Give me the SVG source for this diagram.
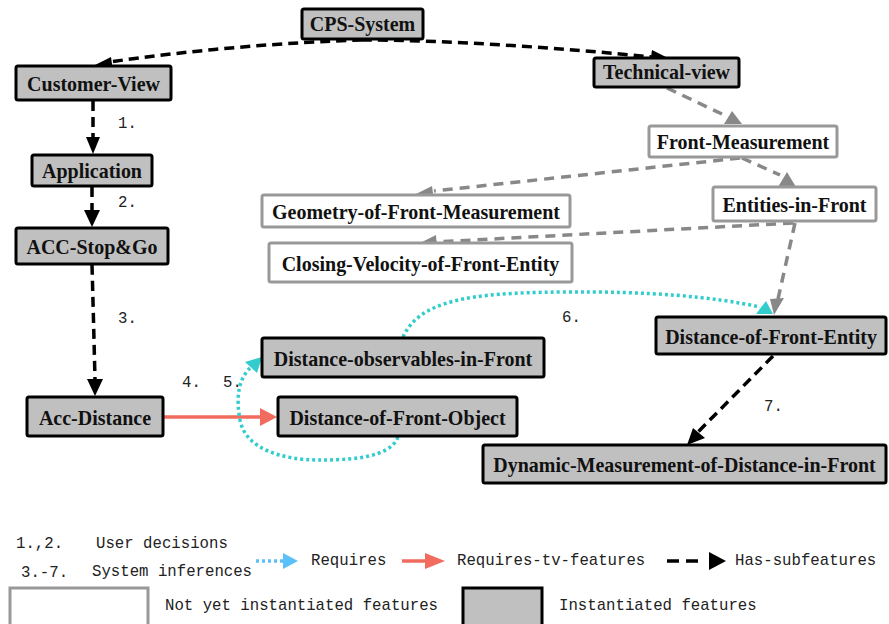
<svg xmlns="http://www.w3.org/2000/svg" width="889" height="624" viewBox="0 0 889 624">
<style>
.inst{fill:#c0c0c0;stroke:#000;stroke-width:3}
.nyi{fill:#fff;stroke:#999;stroke-width:3}
.lbl{font-family:"Liberation Serif","Times New Roman",serif;font-weight:bold;font-size:20px;fill:#111;text-anchor:middle}
.mono{font-family:"Liberation Mono","Courier New",monospace;font-size:15.7px;fill:#222}
.blk{fill:none;stroke:#000;stroke-width:3.5;stroke-dasharray:10,6}
.gry{fill:none;stroke:#888;stroke-width:3.5;stroke-dasharray:10,7}
.cyn{fill:none;stroke:#33cccc;stroke-width:3.5;stroke-dasharray:3,3}
.red{fill:none;stroke:#f26b5f;stroke-width:3.5}
.hb{fill:#000}
.hg{fill:#888}
.hc{fill:#33cccc}
.hr{fill:#f26b5f}
</style>
<rect width="889" height="624" fill="#fff"/>
<g id="connectors">
  <path class="blk" d="M362,40 C290,42 190,50 110,62"/>
  <polygon class="hb" points="95,65 111,57 113,71"/>
  <path class="blk" d="M362,40 C450,40 560,48 652,57"/>
  <polygon class="hb" points="668,58 652,50 650,64"/>
  <path class="blk" d="M93,101 L93,137"/>
  <polygon class="hb" points="93,154 86,137 100,137"/>
  <path class="blk" d="M92,187 L92,210"/>
  <polygon class="hb" points="92,227 84,210 100,210"/>
  <path class="blk" d="M92,265 C93,300 94,340 95,379"/>
  <polygon class="hb" points="95,396 87,379 103,379"/>
  <path class="red" d="M164,417 L261,417"/>
  <polygon class="hr" points="277,417 260,408 260,426"/>
  <path class="cyn" d="M398,437 C390,458 350,460 320,460 C280,460 245,448 240,420 C236,398 238,380 250,368"/>
  <polygon class="hc" points="262,357 245,362 257,373"/>
  <path class="cyn" d="M403,337 C420,300 470,293 560,292 C650,291 715,297 760,307"/>
  <polygon class="hc" points="766,301 756,314 773,314"/>
  <path class="gry" d="M667,88 L722,114"/>
  <polygon class="hg" points="732,111 724,124 742,124"/>
  <path class="gry" d="M740,158 L434,191"/>
  <polygon class="hg" points="416,194 432,186 434,200"/>
  <path class="gry" d="M742,158 L780,175"/>
  <polygon class="hg" points="787,172 778,187 796,187"/>
  <path class="gry" d="M793,223 L436,242"/>
  <polygon class="hg" points="420,243 436,235 437,250"/>
  <path class="gry" d="M795,223 L778,299"/>
  <polygon class="hg" points="774,315 770,299 784,298"/>
  <path class="blk" d="M773,356 L698,432"/>
  <polygon class="hb" points="687,445 693,428 705,438"/>
</g>
<g id="n-cps"><rect class="inst" x="302" y="9" width="121" height="30" rx="2"/><text class="lbl" transform="translate(362.5,31) scale(1,1.1)">CPS-System</text></g>
<g id="n-customer"><rect class="inst" x="16" y="66" width="155" height="34" rx="2"/><text class="lbl" transform="translate(93.5,90.5) scale(1,1.1)">Customer-View</text></g>
<g id="n-technical"><rect class="inst" x="594" y="58" width="145" height="29" rx="2"/><text class="lbl" transform="translate(666.5,79) scale(1,1.1)">Technical-view</text></g>
<g id="n-frontmeas"><rect class="nyi" x="649" y="126" width="188" height="31" rx="2"/><text class="lbl" transform="translate(743,148.5) scale(1,1.1)">Front-Measurement</text></g>
<g id="n-entities"><rect class="nyi" x="713" y="187" width="163" height="34" rx="2"/><text class="lbl" transform="translate(794.5,211.5) scale(1,1.1)">Entities-in-Front</text></g>
<g id="n-geometry"><rect class="nyi" x="262" y="195" width="308" height="32" rx="2"/><text class="lbl" transform="translate(416,218.5) scale(1,1.1)">Geometry-of-Front-Measurement</text></g>
<g id="n-closing"><rect class="nyi" x="269" y="243" width="303" height="39" rx="2"/><text class="lbl" transform="translate(420.5,270.5) scale(1,1.1)">Closing-Velocity-of-Front-Entity</text></g>
<g id="n-application"><rect class="inst" x="32" y="155" width="120" height="31" rx="2"/><text class="lbl" transform="translate(92,177.5) scale(1,1.1)">Application</text></g>
<g id="n-accstop"><rect class="inst" x="16" y="228" width="152" height="36" rx="2"/><text class="lbl" transform="translate(92,253.5) scale(1,1.1)">ACC-Stop&amp;Go</text></g>
<g id="n-accdist"><rect class="inst" x="27" y="397" width="136" height="39" rx="2"/><text class="lbl" transform="translate(95,424.5) scale(1,1.1)">Acc-Distance</text></g>
<g id="n-distobs"><rect class="inst" x="262" y="338" width="282" height="39" rx="2"/><text class="lbl" transform="translate(403,365.5) scale(1,1.1)">Distance-observables-in-Front</text></g>
<g id="n-distobj"><rect class="inst" x="278" y="397" width="239" height="39" rx="2"/><text class="lbl" transform="translate(397.5,424.5) scale(1,1.1)">Distance-of-Front-Object</text></g>
<g id="n-distent"><rect class="inst" x="656" y="317" width="230" height="37" rx="2"/><text class="lbl" transform="translate(771,343.5) scale(1,1.1)">Distance-of-Front-Entity</text></g>
<g id="n-dynmeas"><rect class="inst" x="483" y="445" width="403" height="38" rx="2"/><text class="lbl" transform="translate(684.5,471.5) scale(1,1.1)">Dynamic-Measurement-of-Distance-in-Front</text></g>
<g id="edge-labels">
  <text class="mono" x="118" y="128">1.</text>
  <text class="mono" x="118" y="207">2.</text>
  <text class="mono" x="118" y="323">3.</text>
  <text class="mono" x="182" y="387">4.</text>
  <text class="mono" x="223" y="387">5.</text>
  <text class="mono" x="562" y="322">6.</text>
  <text class="mono" x="764" y="411">7.</text>
</g>
<g id="legend">
  <text class="mono" x="16" y="548">1.,2.</text>
  <text class="mono" x="96" y="548">User decisions</text>
  <text class="mono" x="21" y="577">3.-7.</text>
  <text class="mono" x="92" y="576">System inferences</text>
  <path d="M256,561 L283,561" fill="none" stroke="#5bc0f8" stroke-width="3.5" stroke-dasharray="3,3"/>
  <polygon points="298,561 283,553 283,569" fill="#5bc0f8"/>
  <text class="mono" x="311" y="565">Requires</text>
  <path class="red" d="M402,561 L426,561"/>
  <polygon class="hr" points="445,561 425,553 425,569"/>
  <text class="mono" x="457" y="565">Requires-tv-features</text>
  <path d="M667,561 L703,561" fill="none" stroke="#000" stroke-width="3.5" stroke-dasharray="12,7"/>
  <polygon class="hb" points="726,561 709,552 709,570"/>
  <text class="mono" x="735" y="565">Has-subfeatures</text>
  <rect class="nyi" x="10" y="588" width="138" height="50"/>
  <text class="mono" x="165" y="610">Not yet instantiated features</text>
  <rect class="inst" x="463" y="588" width="79" height="50"/>
  <text class="mono" x="559" y="610">Instantiated features</text>
</g>
</svg>
